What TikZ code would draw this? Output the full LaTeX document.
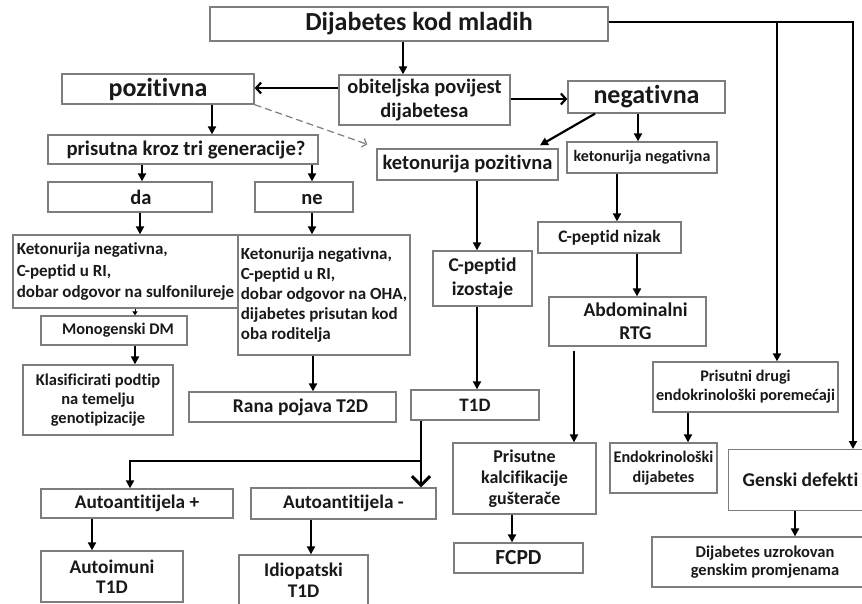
\documentclass[tikz,border=0pt]{standalone}
\usepackage{fontspec}
\setmainfont{Carlito}[RawFeature={-liga;-clig;-calt;-rlig;-dlig}]
\usetikzlibrary{arrows.meta}
\definecolor{boxgray}{RGB}{125,125,125}
\definecolor{txt}{RGB}{25,25,25}
\newcommand\myfs[2]{\bfseries\fontsize{#1}{#2}\selectfont}
\newcommand\bx[7][]{\node[box,minimum width=\fpeval{#5-#3}pt,minimum height=\fpeval{#6-#4}pt,#1] (#2) at (\fpeval{(#3+#5)/2},\fpeval{(#4+#6)/2}) {#7};}
\tikzset{
  box/.style={draw=boxgray, line width=1.3pt, fill=white, inner sep=0pt, text=txt, align=center, font=\myfs{16}{20}},
  arr/.style={line width=2.4pt, draw=black, -{Triangle[length=8pt,width=8pt]}},
  barb/.style={line width=2.2pt, draw=black, -{Straight Barb[length=5pt,width=11pt,line width=2.2pt]}},
  bigbarb/.style={line width=2.6pt, draw=black, -{Straight Barb[length=9pt,width=18pt,line width=3pt]}},
  dasharr/.style={line width=1.2pt, draw=boxgray, dash pattern=on 7pt off 4pt, -{Straight Barb[length=4pt,width=9pt,line width=1.2pt]}}
}
\begin{document}
\begin{tikzpicture}[x=1pt,y=-1pt]
\useasboundingbox (0,0) rectangle (862,603);
\fill[white] (0,0) rectangle (862,603);
\clip (0,0) rectangle (862,603);
% boxes
\bx[font=\myfs{26}{28}]{top}{210}{7}{608}{41}{\hspace*{20pt}Dijabetes kod mladih}
\bx[font=\myfs{20.5}{24}]{obit}{339}{75}{510}{125}{obiteljska povijest\\dijabetesa}
\bx[font=\myfs{26}{28}]{poz}{62}{74}{254}{104}{pozitivna}
\bx[font=\myfs{26}{28}]{neg}{568}{81}{725}{113}{negativna}
\bx[font=\myfs{20.5}{24}]{ketpoz}{377}{149}{558}{180}{ketonurija pozitivna}
\bx[font=\myfs{16}{19}]{ketneg}{567}{142}{717}{173}{ketonurija negativna}
\bx[font=\myfs{20.7}{24}]{pris}{48}{135}{318}{164}{\hspace*{6pt}prisutna kroz tri generacije?}
\bx[font=\myfs{20.5}{24}]{da}{48}{182}{212}{212}{\hspace*{22pt}da}
\bx[font=\myfs{20.5}{24}]{ne}{255}{182}{353}{212}{\hspace*{16pt}\vphantom{d}ne}
\bx[font=\myfs{17}{21.5},align=left]{detL}{13}{235}{238}{308}{Ketonurija negativna,\\C-peptid u RI,\\dobar odgovor na sulfonilureje}
\bx[font=\myfs{17}{20}, align=left]{detR}{238}{235}{410}{355}{Ketonurija negativna,\\C-peptid u RI,\\dobar odgovor na OHA,\\dijabetes prisutan kod\\oba roditelja}
\bx[font=\myfs{16.3}{20}]{mono}{41}{316}{187}{345}{\hspace*{8pt}Monogenski DM}
\bx[font=\myfs{16.5}{19}]{klas}{23}{365}{173}{435}{Klasificirati podtip\\na temelju\\genotipizacije}
\bx[font=\myfs{19.5}{23}]{rana}{189}{392}{396}{422}{\hspace*{16pt}Rana pojava T2D}
\bx[font=\myfs{19}{23}]{t1d}{411}{390}{539}{420}{T1D}
\bx[font=\myfs{19.5}{23.5}]{cpi}{433}{251}{532}{306}{C-peptid\\izostaje}
\bx[font=\myfs{17.5}{21}]{cpn}{538}{222}{681}{253}{C-peptid nizak}
\bx[font=\myfs{19.5}{23}]{abd}{549}{297}{706}{346}{\hspace*{16pt}Abdominalni\\\hspace*{16pt}RTG}
\bx[font=\myfs{16.2}{19}]{prd}{653}{362}{838}{412}{Prisutni drugi\\endokrinološki poremećaji}
\bx[font=\myfs{18}{21}]{kalc}{453}{443}{596}{514}{Prisutne\\kalcifikacije\\gušterače}
\bx[font=\myfs{21.5}{24}]{fcpd}{454}{543}{583}{573}{FCPD}
\bx[font=\myfs{16.2}{19.5}]{endo}{610}{443}{717}{493}{Endokrinološki\\dijabetes}
\node[box, font=\myfs{19.5}{24}, anchor=north west, inner xsep=14pt, minimum height=61pt] (gen) at (728,449) {Genski defekti\hspace*{30pt}};
\bx[font=\myfs{16.5}{18.5}]{dju}{652}{537}{878}{587}{Dijabetes uzrokovan\\genskim promjenama}
\bx[font=\myfs{19.3}{22}]{autop}{41}{489}{233}{518}{Autoantitijela +}
\bx[font=\myfs{19.3}{22}]{autom}{251}{488}{436}{519}{Autoantitijela -}
\bx[font=\myfs{19.3}{20.5}]{autoi}{41}{551}{183}{602}{Autoimuni\\T1D}
\bx[font=\myfs{19.3}{21}]{idio}{239}{555}{368}{606}{Idiopatski\\T1D}
% connectors
\draw[arr] (top.south -| 403,0) -- (obit.north -| 403,0);
\draw[barb] (obit.west |- 0,88) -- (poz.east |- 0,88);
\draw[barb] (obit.east |- 0,99) -- (neg.west |- 0,99);
\draw[arr] (poz.south -| 212,0) -- (pris.north -| 212,0);
\draw[arr] (pris.south -| 142,0) -- (da.north -| 142,0);
\draw[arr] (pris.south -| 312,0) -- (ne.north -| 312,0);
\draw[arr] (da.south -| 140,0) -- (detL.north -| 140,0);
\draw[arr] (ne.south -| 312,0) -- (detR.north -| 312,0);
\draw[line width=0.8pt, -{Triangle[length=4pt,width=5pt]}] (detL.south -| 135,0) -- (mono.north -| 135,0);
\draw[arr] (mono.south -| 135,0) -- (klas.north -| 135,0);
\draw[arr] (detR.south -| 313,0) -- (rana.north -| 313,0);
\draw[dasharr] (poz.south east) -- ([shift={(-9,-4)}]ketpoz.north west);
\draw[line width=2.2pt, -{Triangle[length=8pt,width=8pt]}] (neg.south -| 595,0) -- ([shift={(0,-3)}]ketpoz.north -| 540,0);
\draw[arr] (neg.south -| 638,0) -- (ketneg.north -| 638,0);
\draw[arr] (ketpoz.south -| 477,0) -- (cpi.north -| 477,0);
\draw[arr] (cpi.south -| 477,0) -- (t1d.north -| 477,0);
\draw[arr] (ketneg.south -| 617,0) -- (cpn.north -| 617,0);
\draw[arr] (cpn.south -| 637,0) -- (abd.north -| 637,0);
\draw[arr] ([yshift=-4pt]abd.south -| 574,0) -- (kalc.north -| 574,0);
\draw[arr] (kalc.south -| 512,0) -- (fcpd.north -| 512,0);
\draw[arr] (top.east |- 0,22) -| (prd.north -| 777,0);
\draw[arr] (top.east |- 0,22) -| (gen.north -| 853,0);
\draw[arr] (prd.south -| 688,0) -- (endo.north -| 688,0);
\draw[arr] (gen.south -| 795,0) -- (dju.north -| 795,0);
\draw[arr] (t1d.south -| 421,0) -- (421,461) -| (autop.north -| 130,0);
\draw[bigbarb] (t1d.south -| 421,0) -- (autom.north -| 421,0);
\draw[arr] (autop.south -| 92,0) -- (autoi.north -| 92,0);
\draw[arr] (autom.south -| 311,0) -- (idio.north -| 311,0);
\end{tikzpicture}
\end{document}
